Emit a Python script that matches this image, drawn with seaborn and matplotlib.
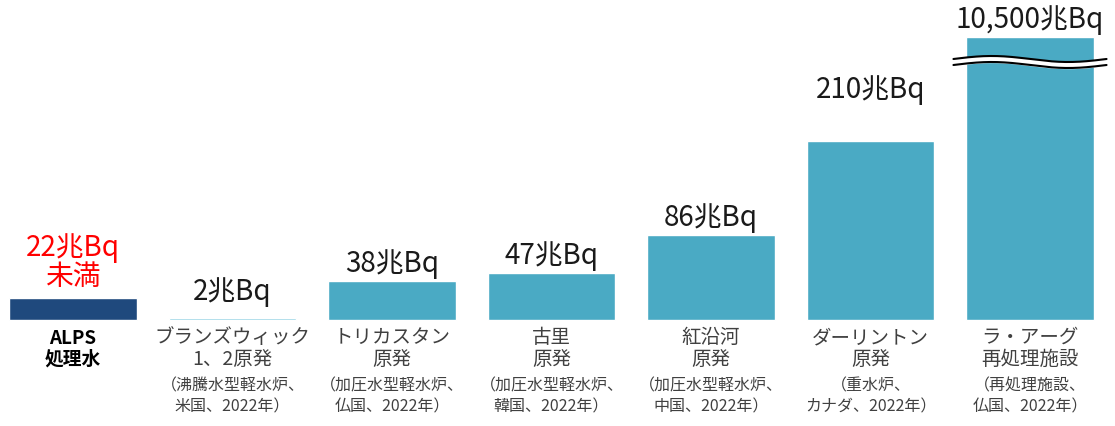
import numpy as np
import pandas as pd
import matplotlib
matplotlib.use('Agg')
import matplotlib.pyplot as plt
import seaborn as sns

# values shown above the bars and the drawn bar heights (last bar is cut with a wave)
value_labels = ['22兆Bq\n未満', '2兆Bq', '38兆Bq', '47兆Bq', '86兆Bq', '210兆Bq', '10,500兆Bq']
bar_heights = [22, 2, 39, 47, 85, 179, 283]
names = ['ALPS\n処理水', 'ブランズウィック\n1、2原発', 'トリカスタン\n原発', '古里\n原発',
         '紅沿河\n原発', 'ダーリントン\n原発', 'ラ・アーグ\n再処理施設']
details = ['', '（沸騰水型軽水炉、\n米国、2022年）', '（加圧水型軽水炉、\n仏国、2022年）',
           '（加圧水型軽水炉、\n韓国、2022年）', '（加圧水型軽水炉、\n中国、2022年）',
           '（重水炉、\nカナダ、2022年）', '（再処理施設、\n仏国、2022年）']
bar_colors = ['#1f497d', '#86cde0', '#4aaac4', '#4aaac4', '#4aaac4', '#4aaac4', '#4aaac4']

sns.set_style('white')
plt.rcParams['font.family'] = ['Noto Sans CJK JP', 'DejaVu Sans']

df = pd.DataFrame({'name': names, 'height': bar_heights})

fig = plt.figure(figsize=(11.15, 4.27), dpi=100)
ax = fig.add_axes([0, 0, 1, 1])
sns.barplot(data=df, x='name', y='height', hue='name', palette=bar_colors,
            width=0.8, saturation=1, legend=False, ax=ax)
ax.set_xlim(-0.458, 6.533)
ax.set_ylim(-106, 321)
ax.axis('off')

# label gaps above each bar
label_pad = [7, 12, 3, 3, 3, 37, 3]
for i, (lab, h) in enumerate(zip(value_labels, bar_heights)):
    color = 'red' if i == 0 else '#1a1a1a'
    ax.text(i, h + label_pad[i], lab, ha='center', va='bottom', fontsize=20,
            color=color, linespacing=0.95)

for i, (nm, d) in enumerate(zip(names, details)):
    if i == 0:
        ax.text(i, -8, nm, ha='center', va='top', fontsize=13.5, fontweight='bold',
                color='black', linespacing=1.1)
    else:
        ax.text(i, -6, nm, ha='center', va='top', fontsize=14, color='#404040',
                linespacing=1.05)
        ax.text(i, -56, d, ha='center', va='top', fontsize=11.5, color='#404040',
                linespacing=1.35)

# wavy break on the last bar
xs = np.linspace(6 - 0.48, 6 + 0.48, 200)
wave = 258 + 3 * np.sin((xs - xs[0]) / (xs[-1] - xs[0]) * 2 * np.pi)
ax.fill_between(xs, wave - 3, wave + 3, color='white', zorder=3)
ax.plot(xs, wave + 3, color='black', lw=1.5, zorder=4)
ax.plot(xs, wave - 3, color='black', lw=1.5, zorder=4)

fig.savefig('out.png', dpi=100)
